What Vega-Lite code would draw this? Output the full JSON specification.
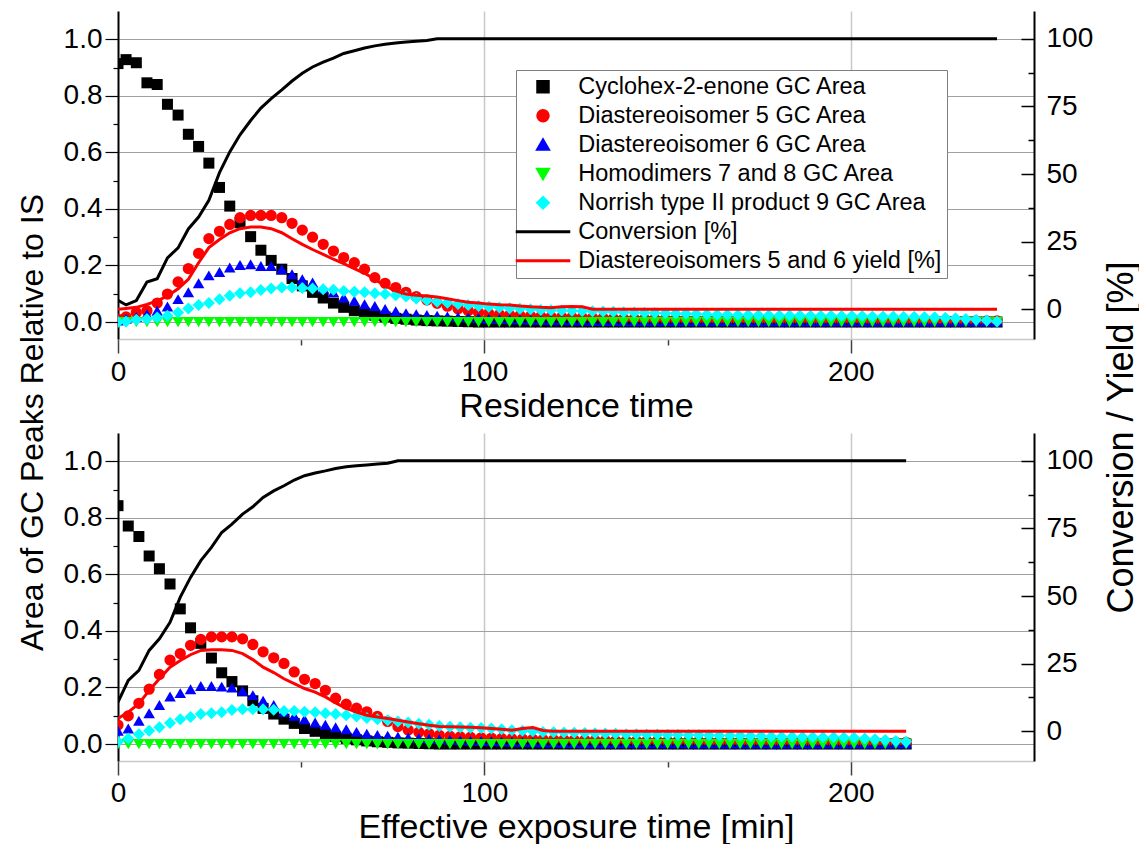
{
  "$schema": "https://vega.github.io/schema/vega-lite/v6.json",
  "padding": {"left": 16, "top": 11, "right": 0, "bottom": 0},
  "autosize": {"type": "pad"},
  "bounds": "flush",
  "spacing": 94,
  "config": {
    "view": {"stroke": null},
    "font": "Liberation Sans",
    "axis": {
      "labelFont": "Liberation Sans",
      "titleFont": "Liberation Sans",
      "labelColor": "#000000",
      "titleColor": "#000000",
      "titleFontWeight": "normal",
      "labelFontSize": 28,
      "titleFontSize": 34,
      "labelFlush": false,
      "labelOverlap": false,
      "labelBound": false
    }
  },
  "resolve": {
    "scale": {"color": "independent", "shape": "independent", "size": "independent"},
    "legend": {"color": "independent", "shape": "independent", "size": "independent"}
  },
  "datasets": {
    "residence": [
      {"t":0.0,"c":0.914,"d5":0.010,"d6":0.005,"h":0,"n":0.000,"cv":3.3,"yl":0.0},
      {"t":2.2,"c":0.928,"d5":0.018,"d6":0.012,"h":0,"n":0.002,"cv":1.6,"yl":0.3},
      {"t":5.0,"c":0.917,"d5":0.034,"d6":0.018,"h":0,"n":0.008,"cv":3.2,"yl":0.7},
      {"t":7.9,"c":0.846,"d5":0.040,"d6":0.028,"h":0,"n":0.011,"cv":10.1,"yl":1.8},
      {"t":10.7,"c":0.840,"d5":0.067,"d6":0.040,"h":0,"n":0.016,"cv":11.3,"yl":3.1},
      {"t":13.5,"c":0.770,"d5":0.099,"d6":0.055,"h":0,"n":0.022,"cv":19.0,"yl":4.9},
      {"t":16.4,"c":0.732,"d5":0.142,"d6":0.081,"h":0,"n":0.034,"cv":22.7,"yl":7.6},
      {"t":19.2,"c":0.664,"d5":0.189,"d6":0.105,"h":0,"n":0.048,"cv":29.7,"yl":11.1},
      {"t":22.0,"c":0.621,"d5":0.243,"d6":0.137,"h":0,"n":0.060,"cv":34.1,"yl":17.2},
      {"t":24.8,"c":0.562,"d5":0.295,"d6":0.165,"h":0,"n":0.067,"cv":40.3,"yl":22.8},
      {"t":27.7,"c":0.476,"d5":0.321,"d6":0.177,"h":0,"n":0.081,"cv":50.5,"yl":25.8},
      {"t":30.5,"c":0.410,"d5":0.345,"d6":0.193,"h":0,"n":0.093,"cv":58.2,"yl":28.3},
      {"t":33.3,"c":0.351,"d5":0.369,"d6":0.202,"h":0,"n":0.102,"cv":64.5,"yl":29.8},
      {"t":36.2,"c":0.302,"d5":0.377,"d6":0.204,"h":0,"n":0.105,"cv":69.8,"yl":30.4},
      {"t":39.0,"c":0.254,"d5":0.377,"d6":0.198,"h":0,"n":0.113,"cv":74.4,"yl":30.4},
      {"t":41.8,"c":0.218,"d5":0.377,"d6":0.198,"h":0,"n":0.119,"cv":77.9,"yl":29.8},
      {"t":44.7,"c":0.187,"d5":0.369,"d6":0.187,"h":0,"n":0.122,"cv":81.1,"yl":28.3},
      {"t":47.5,"c":0.154,"d5":0.349,"d6":0.169,"h":0,"n":0.122,"cv":84.4,"yl":26.1},
      {"t":50.3,"c":0.128,"d5":0.325,"d6":0.151,"h":0,"n":0.120,"cv":87.3,"yl":24.0},
      {"t":53.1,"c":0.105,"d5":0.300,"d6":0.140,"h":0,"n":0.119,"cv":89.6,"yl":22.1},
      {"t":56.0,"c":0.085,"d5":0.275,"d6":0.119,"h":0,"n":0.116,"cv":91.4,"yl":20.3},
      {"t":58.8,"c":0.067,"d5":0.251,"d6":0.105,"h":0,"n":0.114,"cv":92.9,"yl":18.5},
      {"t":61.6,"c":0.052,"d5":0.228,"d6":0.087,"h":0,"n":0.110,"cv":94.6,"yl":16.9},
      {"t":64.5,"c":0.040,"d5":0.210,"d6":0.075,"h":0,"n":0.107,"cv":95.6,"yl":15.0},
      {"t":67.3,"c":0.031,"d5":0.187,"d6":0.063,"h":0,"n":0.105,"cv":96.6,"yl":13.3},
      {"t":70.1,"c":0.024,"d5":0.157,"d6":0.057,"h":0,"n":0.102,"cv":97.4,"yl":11.1},
      {"t":72.9,"c":0.018,"d5":0.137,"d6":0.046,"h":0,"n":0.099,"cv":98.0,"yl":8.6},
      {"t":75.8,"c":0.013,"d5":0.122,"d6":0.038,"h":0,"n":0.095,"cv":98.5,"yl":6.8},
      {"t":78.6,"c":0.010,"d5":0.105,"d6":0.031,"h":0,"n":0.090,"cv":98.8,"yl":5.6},
      {"t":81.4,"c":0.007,"d5":0.090,"d6":0.028,"h":0,"n":0.083,"cv":99.1,"yl":5.2},
      {"t":84.3,"c":0.005,"d5":0.078,"d6":0.025,"h":0,"n":0.077,"cv":99.4,"yl":4.9},
      {"t":87.1,"c":0.004,"d5":0.066,"d6":0.022,"h":0,"n":0.072,"cv":100,"yl":4.5},
      {"t":89.9,"c":0.003,"d5":0.056,"d6":0.020,"h":0,"n":0.068,"cv":100,"yl":3.9},
      {"t":92.8,"c":0.002,"d5":0.047,"d6":0.018,"h":0,"n":0.064,"cv":100,"yl":3.2},
      {"t":95.6,"c":0.001,"d5":0.040,"d6":0.016,"h":0,"n":0.060,"cv":100,"yl":2.6},
      {"t":98.4,"c":0,"d5":0.034,"d6":0.014,"h":0,"n":0.057,"cv":100,"yl":2.3},
      {"t":101.2,"c":0,"d5":0.030,"d6":0.012,"h":0,"n":0.054,"cv":100,"yl":1.9},
      {"t":104.1,"c":0,"d5":0.027,"d6":0.011,"h":0,"n":0.051,"cv":100,"yl":1.7},
      {"t":106.9,"c":0,"d5":0.025,"d6":0.010,"h":0,"n":0.049,"cv":100,"yl":1.6},
      {"t":109.7,"c":0,"d5":0.023,"d6":0.009,"h":0,"n":0.047,"cv":100,"yl":1.2},
      {"t":112.6,"c":0,"d5":0.021,"d6":0.008,"h":0,"n":0.045,"cv":100,"yl":0.9},
      {"t":115.4,"c":0,"d5":0.020,"d6":0.007,"h":0,"n":0.043,"cv":100,"yl":0.7},
      {"t":118.2,"c":0,"d5":0.019,"d6":0.006,"h":0,"n":0.042,"cv":100,"yl":0.6},
      {"t":121.1,"c":0,"d5":0.018,"d6":0.006,"h":0,"n":0.041,"cv":100,"yl":0.9},
      {"t":123.9,"c":0,"d5":0.017,"d6":0.005,"h":0,"n":0.040,"cv":100,"yl":1.0},
      {"t":126.7,"c":0,"d5":0.016,"d6":0.005,"h":0,"n":0.039,"cv":100,"yl":0.9},
      {"t":129.5,"c":0,"d5":0.015,"d6":0.004,"h":0,"n":0.038,"cv":100,"yl":0},
      {"t":132.4,"c":0,"d5":0.014,"d6":0.004,"h":0,"n":0.037,"cv":100,"yl":0},
      {"t":135.2,"c":0,"d5":0.013,"d6":0.004,"h":0,"n":0.036,"cv":100,"yl":0},
      {"t":138.0,"c":0,"d5":0.012,"d6":0.003,"h":0,"n":0.035,"cv":100,"yl":0},
      {"t":140.9,"c":0,"d5":0.012,"d6":0.003,"h":0,"n":0.034,"cv":100,"yl":0},
      {"t":143.7,"c":0,"d5":0.011,"d6":0.003,"h":0,"n":0.033,"cv":100,"yl":0},
      {"t":146.5,"c":0,"d5":0.011,"d6":0.003,"h":0,"n":0.032,"cv":100,"yl":0},
      {"t":149.4,"c":0,"d5":0.010,"d6":0.003,"h":0,"n":0.031,"cv":100,"yl":0},
      {"t":152.2,"c":0,"d5":0.010,"d6":0.003,"h":0,"n":0.030,"cv":100,"yl":0},
      {"t":155.0,"c":0,"d5":0.009,"d6":0.003,"h":0,"n":0.029,"cv":100,"yl":0},
      {"t":157.8,"c":0,"d5":0.009,"d6":0.003,"h":0,"n":0.028,"cv":100,"yl":0},
      {"t":160.7,"c":0,"d5":0.009,"d6":0.003,"h":0,"n":0.027,"cv":100,"yl":0},
      {"t":163.5,"c":0,"d5":0.008,"d6":0.003,"h":0,"n":0.026,"cv":100,"yl":0},
      {"t":166.3,"c":0,"d5":0.008,"d6":0.003,"h":0,"n":0.026,"cv":100,"yl":0},
      {"t":169.2,"c":0,"d5":0.008,"d6":0.002,"h":0,"n":0.025,"cv":100,"yl":0},
      {"t":172.0,"c":0,"d5":0.008,"d6":0.002,"h":0,"n":0.025,"cv":100,"yl":0},
      {"t":174.8,"c":0,"d5":0.007,"d6":0.002,"h":0,"n":0.024,"cv":100,"yl":0},
      {"t":177.6,"c":0,"d5":0.007,"d6":0.002,"h":0,"n":0.024,"cv":100,"yl":0},
      {"t":180.5,"c":0,"d5":0.007,"d6":0.002,"h":0,"n":0.023,"cv":100,"yl":0},
      {"t":183.3,"c":0,"d5":0.007,"d6":0.002,"h":0,"n":0.023,"cv":100,"yl":0},
      {"t":186.1,"c":0,"d5":0.007,"d6":0.002,"h":0,"n":0.023,"cv":100,"yl":0},
      {"t":189.0,"c":0,"d5":0.006,"d6":0.002,"h":0,"n":0.022,"cv":100,"yl":0},
      {"t":191.8,"c":0,"d5":0.006,"d6":0.002,"h":0,"n":0.022,"cv":100,"yl":0},
      {"t":194.6,"c":0,"d5":0.006,"d6":0.002,"h":0,"n":0.022,"cv":100,"yl":0},
      {"t":197.5,"c":0,"d5":0.006,"d6":0.002,"h":0,"n":0.021,"cv":100,"yl":0},
      {"t":200.3,"c":0,"d5":0.006,"d6":0.002,"h":0,"n":0.021,"cv":100,"yl":0},
      {"t":203.1,"c":0,"d5":0.006,"d6":0.002,"h":0,"n":0.021,"cv":100,"yl":0},
      {"t":205.9,"c":0,"d5":0.005,"d6":0.002,"h":0,"n":0.020,"cv":100,"yl":0},
      {"t":208.8,"c":0,"d5":0.005,"d6":0.002,"h":0,"n":0.020,"cv":100,"yl":0},
      {"t":211.6,"c":0,"d5":0.005,"d6":0.002,"h":0,"n":0.020,"cv":100,"yl":0},
      {"t":214.4,"c":0,"d5":0.005,"d6":0.002,"h":0,"n":0.019,"cv":100,"yl":0},
      {"t":217.3,"c":0,"d5":0.005,"d6":0.002,"h":0,"n":0.019,"cv":100,"yl":0},
      {"t":220.1,"c":0,"d5":0.005,"d6":0.002,"h":0,"n":0.018,"cv":100,"yl":0},
      {"t":222.9,"c":0,"d5":0.004,"d6":0.002,"h":0,"n":0.017,"cv":100,"yl":0},
      {"t":225.8,"c":0,"d5":0.004,"d6":0.002,"h":0,"n":0.015,"cv":100,"yl":0},
      {"t":228.6,"c":0,"d5":0.004,"d6":0.002,"h":0,"n":0.013,"cv":100,"yl":0},
      {"t":231.4,"c":0,"d5":0.004,"d6":0.002,"h":0,"n":0.011,"cv":100,"yl":0},
      {"t":234.2,"c":0,"d5":0.004,"d6":0.002,"h":0,"n":0.008,"cv":100,"yl":0},
      {"t":237.1,"c":0,"d5":0.004,"d6":0.002,"h":0,"n":0.005,"cv":100,"yl":0},
      {"t":239.9,"c":0,"d5":0.004,"d6":0.002,"h":0,"n":0.002,"cv":100,"yl":0}
    ],
    "exposure": [
      {"t":0.0,"c":0.843,"d5":0.067,"d6":0.047,"h":0,"n":0.008,"cv":10.8,"yl":4.7},
      {"t":2.8,"c":0.771,"d5":0.100,"d6":0.055,"h":0,"n":0.020,"cv":18.8,"yl":7.1},
      {"t":5.7,"c":0.734,"d5":0.144,"d6":0.082,"h":0,"n":0.035,"cv":22.5,"yl":10.2},
      {"t":8.5,"c":0.665,"d5":0.194,"d6":0.109,"h":0,"n":0.047,"cv":29.9,"yl":15.1},
      {"t":11.3,"c":0.620,"d5":0.246,"d6":0.138,"h":0,"n":0.059,"cv":34.2,"yl":19.4},
      {"t":14.2,"c":0.566,"d5":0.297,"d6":0.168,"h":0,"n":0.074,"cv":40.3,"yl":23.7},
      {"t":17.0,"c":0.478,"d5":0.320,"d6":0.180,"h":0,"n":0.088,"cv":49.6,"yl":26.2},
      {"t":19.8,"c":0.411,"d5":0.349,"d6":0.194,"h":0,"n":0.096,"cv":56.9,"yl":28.3},
      {"t":22.6,"c":0.356,"d5":0.370,"d6":0.205,"h":0,"n":0.106,"cv":63.1,"yl":29.9},
      {"t":25.5,"c":0.304,"d5":0.379,"d6":0.205,"h":0,"n":0.109,"cv":68.0,"yl":30.1},
      {"t":28.3,"c":0.252,"d5":0.379,"d6":0.203,"h":0,"n":0.112,"cv":73.5,"yl":30.1},
      {"t":31.1,"c":0.221,"d5":0.379,"d6":0.200,"h":0,"n":0.120,"cv":76.6,"yl":29.9},
      {"t":34.0,"c":0.188,"d5":0.372,"d6":0.188,"h":0,"n":0.123,"cv":80.3,"yl":28.7},
      {"t":36.8,"c":0.153,"d5":0.352,"d6":0.173,"h":0,"n":0.123,"cv":83.0,"yl":26.5},
      {"t":39.6,"c":0.126,"d5":0.326,"d6":0.153,"h":0,"n":0.123,"cv":86.5,"yl":23.7},
      {"t":42.5,"c":0.106,"d5":0.305,"d6":0.138,"h":0,"n":0.121,"cv":88.9,"yl":21.7},
      {"t":45.3,"c":0.088,"d5":0.285,"d6":0.114,"h":0,"n":0.117,"cv":90.8,"yl":19.4},
      {"t":48.1,"c":0.073,"d5":0.255,"d6":0.100,"h":0,"n":0.117,"cv":92.9,"yl":17.6},
      {"t":50.9,"c":0.055,"d5":0.229,"d6":0.088,"h":0,"n":0.114,"cv":94.5,"yl":15.8},
      {"t":53.8,"c":0.045,"d5":0.214,"d6":0.076,"h":0,"n":0.112,"cv":95.5,"yl":14.5},
      {"t":56.6,"c":0.035,"d5":0.190,"d6":0.068,"h":0,"n":0.109,"cv":96.3,"yl":12.7},
      {"t":59.4,"c":0.027,"d5":0.162,"d6":0.059,"h":0,"n":0.106,"cv":97.2,"yl":10.5},
      {"t":62.3,"c":0.020,"d5":0.141,"d6":0.052,"h":0,"n":0.102,"cv":97.8,"yl":8.5},
      {"t":65.1,"c":0.015,"d5":0.127,"d6":0.043,"h":0,"n":0.097,"cv":98.2,"yl":7.1},
      {"t":67.9,"c":0.011,"d5":0.114,"d6":0.036,"h":0,"n":0.092,"cv":98.5,"yl":5.9},
      {"t":70.8,"c":0.008,"d5":0.098,"d6":0.032,"h":0,"n":0.088,"cv":98.8,"yl":5.3},
      {"t":73.6,"c":0.006,"d5":0.080,"d6":0.029,"h":0,"n":0.084,"cv":99.1,"yl":4.7},
      {"t":76.4,"c":0.004,"d5":0.062,"d6":0.026,"h":0,"n":0.080,"cv":100,"yl":4.1},
      {"t":79.2,"c":0.003,"d5":0.050,"d6":0.023,"h":0,"n":0.076,"cv":100,"yl":3.4},
      {"t":82.1,"c":0.002,"d5":0.042,"d6":0.021,"h":0,"n":0.072,"cv":100,"yl":2.8},
      {"t":84.9,"c":0.001,"d5":0.036,"d6":0.019,"h":0,"n":0.068,"cv":100,"yl":2.2},
      {"t":87.7,"c":0,"d5":0.031,"d6":0.017,"h":0,"n":0.064,"cv":100,"yl":1.8},
      {"t":90.6,"c":0,"d5":0.028,"d6":0.015,"h":0,"n":0.061,"cv":100,"yl":1.7},
      {"t":93.4,"c":0,"d5":0.026,"d6":0.013,"h":0,"n":0.059,"cv":100,"yl":1.6},
      {"t":96.2,"c":0,"d5":0.024,"d6":0.012,"h":0,"n":0.058,"cv":100,"yl":1.5},
      {"t":99.1,"c":0,"d5":0.022,"d6":0.011,"h":0,"n":0.057,"cv":100,"yl":1.3},
      {"t":101.9,"c":0,"d5":0.021,"d6":0.010,"h":0,"n":0.055,"cv":100,"yl":1.0},
      {"t":104.7,"c":0,"d5":0.020,"d6":0.009,"h":0,"n":0.052,"cv":100,"yl":0.7},
      {"t":107.5,"c":0,"d5":0.019,"d6":0.008,"h":0,"n":0.049,"cv":100,"yl":0.4},
      {"t":110.4,"c":0,"d5":0.018,"d6":0.007,"h":0,"n":0.047,"cv":100,"yl":1.0},
      {"t":113.2,"c":0,"d5":0.017,"d6":0.006,"h":0,"n":0.045,"cv":100,"yl":1.4},
      {"t":116.0,"c":0,"d5":0.016,"d6":0.005,"h":0,"n":0.043,"cv":100,"yl":0.3},
      {"t":118.9,"c":0,"d5":0.015,"d6":0.005,"h":0,"n":0.042,"cv":100,"yl":0},
      {"t":121.7,"c":0,"d5":0.015,"d6":0.004,"h":0,"n":0.041,"cv":100,"yl":0},
      {"t":124.5,"c":0,"d5":0.014,"d6":0.004,"h":0,"n":0.040,"cv":100,"yl":0},
      {"t":127.4,"c":0,"d5":0.014,"d6":0.003,"h":0,"n":0.039,"cv":100,"yl":0},
      {"t":130.2,"c":0,"d5":0.013,"d6":0.003,"h":0,"n":0.038,"cv":100,"yl":0},
      {"t":133.0,"c":0,"d5":0.013,"d6":0.003,"h":0,"n":0.037,"cv":100,"yl":0},
      {"t":135.8,"c":0,"d5":0.012,"d6":0.003,"h":0,"n":0.036,"cv":100,"yl":0},
      {"t":138.7,"c":0,"d5":0.012,"d6":0.003,"h":0,"n":0.035,"cv":100,"yl":0},
      {"t":141.5,"c":0,"d5":0.011,"d6":0.003,"h":0,"n":0.035,"cv":100,"yl":0},
      {"t":144.3,"c":0,"d5":0.011,"d6":0.003,"h":0,"n":0.034,"cv":100,"yl":0},
      {"t":147.2,"c":0,"d5":0.011,"d6":0.003,"h":0,"n":0.034,"cv":100,"yl":0},
      {"t":150.0,"c":0,"d5":0.010,"d6":0.003,"h":0,"n":0.033,"cv":100,"yl":0},
      {"t":152.8,"c":0,"d5":0.010,"d6":0.003,"h":0,"n":0.033,"cv":100,"yl":0},
      {"t":155.7,"c":0,"d5":0.010,"d6":0.002,"h":0,"n":0.032,"cv":100,"yl":0},
      {"t":158.5,"c":0,"d5":0.010,"d6":0.002,"h":0,"n":0.032,"cv":100,"yl":0},
      {"t":161.3,"c":0,"d5":0.009,"d6":0.002,"h":0,"n":0.031,"cv":100,"yl":0},
      {"t":164.1,"c":0,"d5":0.009,"d6":0.002,"h":0,"n":0.030,"cv":100,"yl":0},
      {"t":167.0,"c":0,"d5":0.009,"d6":0.002,"h":0,"n":0.030,"cv":100,"yl":0},
      {"t":169.8,"c":0,"d5":0.009,"d6":0.002,"h":0,"n":0.029,"cv":100,"yl":0},
      {"t":172.6,"c":0,"d5":0.008,"d6":0.002,"h":0,"n":0.028,"cv":100,"yl":0},
      {"t":175.5,"c":0,"d5":0.008,"d6":0.002,"h":0,"n":0.028,"cv":100,"yl":0},
      {"t":178.3,"c":0,"d5":0.008,"d6":0.002,"h":0,"n":0.027,"cv":100,"yl":0},
      {"t":181.1,"c":0,"d5":0.008,"d6":0.002,"h":0,"n":0.026,"cv":100,"yl":0},
      {"t":184.0,"c":0,"d5":0.008,"d6":0.002,"h":0,"n":0.026,"cv":100,"yl":0},
      {"t":186.8,"c":0,"d5":0.007,"d6":0.002,"h":0,"n":0.025,"cv":100,"yl":0},
      {"t":189.6,"c":0,"d5":0.007,"d6":0.002,"h":0,"n":0.025,"cv":100,"yl":0},
      {"t":192.4,"c":0,"d5":0.007,"d6":0.002,"h":0,"n":0.024,"cv":100,"yl":0},
      {"t":195.3,"c":0,"d5":0.007,"d6":0.002,"h":0,"n":0.024,"cv":100,"yl":0},
      {"t":198.1,"c":0,"d5":0.007,"d6":0.002,"h":0,"n":0.023,"cv":100,"yl":0},
      {"t":200.9,"c":0,"d5":0.006,"d6":0.002,"h":0,"n":0.022,"cv":100,"yl":0},
      {"t":203.8,"c":0,"d5":0.006,"d6":0.002,"h":0,"n":0.020,"cv":100,"yl":0},
      {"t":206.6,"c":0,"d5":0.006,"d6":0.002,"h":0,"n":0.017,"cv":100,"yl":0},
      {"t":209.4,"c":0,"d5":0.006,"d6":0.002,"h":0,"n":0.014,"cv":100,"yl":0},
      {"t":212.3,"c":0,"d5":0.006,"d6":0.002,"h":0,"n":0.011,"cv":100,"yl":0},
      {"t":215.1,"c":0,"d5":0.006,"d6":0.002,"h":0,"n":0.008,"cv":100,"yl":0}
    ]
  },
  "vconcat": [
    {
      "width": 916,
      "height": 328,
      "data": {"name": "residence"},
      "layer": [
        {
          "transform": [{"fold": ["c", "d5", "d6", "h", "n"], "as": ["key", "v"]}],
          "mark": {"type": "point", "filled": true, "opacity": 1, "strokeWidth": 0, "clip": true},
          "encoding": {
            "x": {
              "field": "t", "type": "quantitative",
              "scale": {"domain": [0, 250], "nice": false, "zero": false},
              "axis": {
                "title": "Residence time",
                "titleY": 77, "titleBaseline": "alphabetic",
                "values": [0, 50, 100, 150, 200],
                "labelExpr": "datum.value % 100 == 0 ? datum.label : ''",
                "labelPadding": 5,
                "tickSize": {"condition": {"test": "datum.value % 100 != 0", "value": 6}, "value": 14},
                "tickColor": "#404040", "tickWidth": 1.5,
                "grid": true, "gridColor": "#c8c8c8", "gridWidth": 1.5,
                "gridOpacity": {"condition": {"test": "datum.value % 100 != 0 || datum.value == 0", "value": 0}, "value": 1},
                "domainColor": "#c8c8c8", "domainWidth": 1.5
              }
            },
            "y": {
              "field": "v", "type": "quantitative",
              "scale": {"domain": [-0.06, 1.1], "nice": false, "zero": false},
              "axis": {
                "orient": "left",
                "title": "Area of GC Peaks Relative to IS",
                "titleFontSize": 32,
                "titleAngle": 270, "titleAlign": "center", "titleBaseline": "alphabetic",
                "titleX": -76, "titleY": 411,
                "values": [0, 0.1, 0.2, 0.3, 0.4, 0.5, 0.6, 0.7, 0.8, 0.9, 1],
                "labelExpr": "round(datum.value * 10) % 2 == 0 ? format(datum.value, '.1f') : ''",
                "labelPadding": 3,
                "tickSize": {"condition": {"test": "round(datum.value * 10) % 2 == 1", "value": 5}, "value": 13},
                "tickColor": "#000000", "tickWidth": 1.2,
                "grid": true, "gridColor": "#a0a0a0", "gridWidth": 1,
                "gridOpacity": {"condition": {"test": "round(datum.value * 10) % 2 == 1", "value": 0}, "value": 1},
                "domainColor": "#000000", "domainWidth": 2
              }
            },
            "color": {
              "field": "key", "type": "nominal",
              "scale": {"domain": ["c", "d5", "d6", "h", "n", "cv", "yl"], "range": ["#000000", "#ff0000", "#0000ff", "#00ff00", "#00ffff", "#000000", "#ff0000"]},
              "legend": {
                "title": null, "orient": "none", "legendX": 398, "legendY": 59,
                "padding": 5, "strokeColor": "#7f7f7f", "fillColor": "#ffffff",
                "labelFont": "Liberation Sans", "labelFontSize": 23.5, "labelColor": "#000000", "labelLimit": 500,
                "symbolSize": 110, "symbolStrokeWidth": 3, "symbolOffset": 10.25, "labelOffset": 23.5, "rowPadding": 4,
                "labelExpr": "datum.value == 'c' ? 'Cyclohex-2-enone GC Area' : datum.value == 'd5' ? 'Diastereoisomer 5 GC Area' : datum.value == 'd6' ? 'Diastereoisomer 6 GC Area' : datum.value == 'h' ? 'Homodimers 7 and 8 GC Area' : datum.value == 'n' ? 'Norrish type II product 9 GC Area' : datum.value == 'cv' ? 'Conversion [%]' : 'Diastereoisomers 5 and 6 yield [%]'",
                "encode": {
                  "symbols": {
                    "update": {
                      "shape": {"signal": "datum.value == 'cv' || datum.value == 'yl' ? 'M-5.2,0H5.2' : datum.value == 'c' ? 'square' : datum.value == 'd5' ? 'circle' : datum.value == 'd6' ? 'triangle-up' : datum.value == 'h' ? 'triangle-down' : 'diamond'"},
                      "fill": {"signal": "datum.value == 'c' || datum.value == 'cv' ? '#000000' : datum.value == 'd5' || datum.value == 'yl' ? '#ff0000' : datum.value == 'd6' ? '#0000ff' : datum.value == 'h' ? '#00ff00' : '#00ffff'"},
                      "stroke": {"signal": "datum.value == 'c' || datum.value == 'cv' ? '#000000' : datum.value == 'd5' || datum.value == 'yl' ? '#ff0000' : datum.value == 'd6' ? '#0000ff' : datum.value == 'h' ? '#00ff00' : '#00ffff'"},
                      "strokeWidth": {"signal": "datum.value == 'cv' || datum.value == 'yl' ? 3 : 0"},
                      "size": {"value": 110},
                      "opacity": {"value": 1}
                    }
                  }
                }
              }
            },
            "shape": {
              "field": "key", "type": "nominal",
              "scale": {"domain": ["c", "d5", "d6", "h", "n", "cv", "yl"], "range": ["square", "circle", "triangle-up", "triangle-down", "diamond", "M-5.2,0H5.2", "M-5.2,0H5.2"]}
            },
            "size": {
              "field": "key", "type": "nominal",
              "scale": {"domain": ["c", "d5", "d6", "h", "n"], "range": [121, 144, 169, 169, 160]},
              "legend": null
            },
            "order": {"field": "key", "type": "ordinal"}
          }
        },
        {
          "transform": [{"fold": ["cv", "yl"], "as": ["key", "v"]}],
          "mark": {"type": "line", "strokeWidth": 3, "clip": true},
          "encoding": {
            "x": {"field": "t", "type": "quantitative"},
            "y": {
              "field": "v", "type": "quantitative",
              "scale": {"domain": [-11, 110.3], "nice": false, "zero": false},
              "axis": {
                "orient": "right",
                "title": "Conversion / Yield [%]",
                "titleFontSize": 36,
                "titleAngle": 270, "titleAlign": "center", "titleBaseline": "alphabetic",
                "titleX": 98, "titleY": 426,
                "values": [0, 12.5, 25, 37.5, 50, 62.5, 75, 87.5, 100],
                "labelExpr": "datum.value % 25 == 0 ? format(datum.value, 'd') : ''",
                "labelPadding": 25,
                "tickSize": {"condition": {"test": "datum.value % 25 != 0", "value": -6}, "value": -13},
                "tickColor": "#000000", "tickWidth": 1.5,
                "grid": false,
                "domainColor": "#000000", "domainWidth": 2
              }
            },
            "color": {"field": "key", "type": "nominal"}
          }
        }
      ],
      "resolve": {"scale": {"y": "independent"}}
    },
    {
      "width": 916,
      "height": 328,
      "data": {"name": "exposure"},
      "layer": [
        {
          "transform": [{"fold": ["c", "d5", "d6", "h", "n"], "as": ["key", "v"]}],
          "mark": {"type": "point", "filled": true, "opacity": 1, "strokeWidth": 0, "clip": true},
          "encoding": {
            "x": {
              "field": "t", "type": "quantitative",
              "scale": {"domain": [0, 250], "nice": false, "zero": false},
              "axis": {
                "title": "Effective exposure time [min]",
                "titleY": 76, "titleBaseline": "alphabetic",
                "values": [0, 50, 100, 150, 200],
                "labelExpr": "datum.value % 100 == 0 ? datum.label : ''",
                "labelPadding": 4,
                "tickSize": {"condition": {"test": "datum.value % 100 != 0", "value": 6}, "value": 14},
                "tickColor": "#404040", "tickWidth": 1.5,
                "grid": true, "gridColor": "#c8c8c8", "gridWidth": 1.5,
                "gridOpacity": {"condition": {"test": "datum.value % 100 != 0 || datum.value == 0", "value": 0}, "value": 1},
                "domainColor": "#c8c8c8", "domainWidth": 1.5
              }
            },
            "y": {
              "field": "v", "type": "quantitative",
              "scale": {"domain": [-0.06, 1.1], "nice": false, "zero": false},
              "axis": {
                "orient": "left",
                "title": null,
                "values": [0, 0.1, 0.2, 0.3, 0.4, 0.5, 0.6, 0.7, 0.8, 0.9, 1],
                "labelExpr": "round(datum.value * 10) % 2 == 0 ? format(datum.value, '.1f') : ''",
                "labelPadding": 3,
                "tickSize": {"condition": {"test": "round(datum.value * 10) % 2 == 1", "value": 5}, "value": 13},
                "tickColor": "#000000", "tickWidth": 1.2,
                "grid": true, "gridColor": "#a0a0a0", "gridWidth": 1,
                "gridOpacity": {"condition": {"test": "round(datum.value * 10) % 2 == 1", "value": 0}, "value": 1},
                "domainColor": "#000000", "domainWidth": 2
              }
            },
            "color": {
              "field": "key", "type": "nominal",
              "scale": {"domain": ["c", "d5", "d6", "h", "n", "cv", "yl"], "range": ["#000000", "#ff0000", "#0000ff", "#00ff00", "#00ffff", "#000000", "#ff0000"]},
              "legend": null
            },
            "shape": {
              "field": "key", "type": "nominal",
              "scale": {"domain": ["c", "d5", "d6", "h", "n", "cv", "yl"], "range": ["square", "circle", "triangle-up", "triangle-down", "diamond", "M-5.2,0H5.2", "M-5.2,0H5.2"]},
              "legend": null
            },
            "size": {
              "field": "key", "type": "nominal",
              "scale": {"domain": ["c", "d5", "d6", "h", "n"], "range": [121, 144, 169, 169, 160]},
              "legend": null
            },
            "order": {"field": "key", "type": "ordinal"}
          }
        },
        {
          "transform": [{"fold": ["cv", "yl"], "as": ["key", "v"]}],
          "mark": {"type": "line", "strokeWidth": 3, "clip": true},
          "encoding": {
            "x": {"field": "t", "type": "quantitative"},
            "y": {
              "field": "v", "type": "quantitative",
              "scale": {"domain": [-11, 110.3], "nice": false, "zero": false},
              "axis": {
                "orient": "right",
                "title": null,
                "values": [0, 12.5, 25, 37.5, 50, 62.5, 75, 87.5, 100],
                "labelExpr": "datum.value % 25 == 0 ? format(datum.value, 'd') : ''",
                "labelPadding": 25,
                "tickSize": {"condition": {"test": "datum.value % 25 != 0", "value": -6}, "value": -13},
                "tickColor": "#000000", "tickWidth": 1.5,
                "grid": false,
                "domainColor": "#000000", "domainWidth": 2
              }
            },
            "color": {"field": "key", "type": "nominal", "legend": null}
          }
        }
      ],
      "resolve": {"scale": {"y": "independent"}}
    }
  ]
}
